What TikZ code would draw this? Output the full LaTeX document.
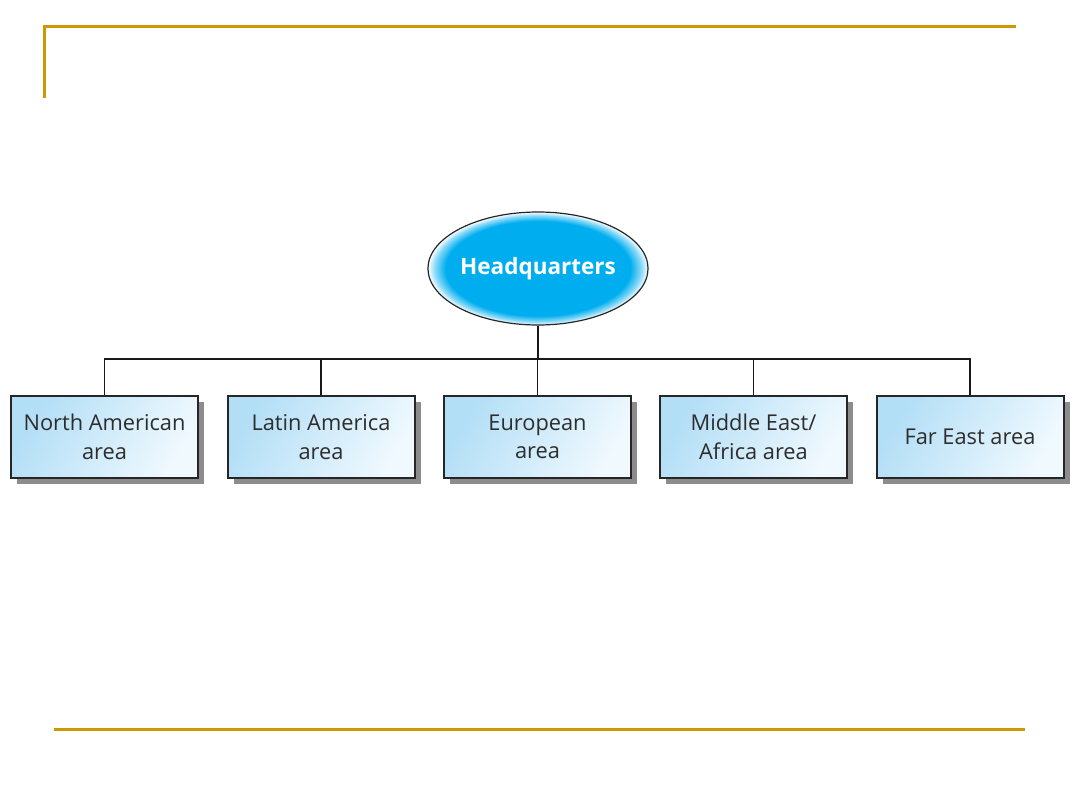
\documentclass[tikz,border=0pt]{standalone}
\usepackage{fontspec}
\setmainfont{Open Sans}
\usetikzlibrary{shapes.geometric,shadows}
\definecolor{gold}{RGB}{204,153,0}
\definecolor{hqcyan}{RGB}{0,174,239}
\definecolor{boxblue}{RGB}{178,222,246}
\definecolor{boxpale}{RGB}{240,249,254}
\definecolor{txt}{RGB}{45,45,45}
\definecolor{shadowgray}{RGB}{140,140,140}
\pgfdeclareradialshading{hqshade}{\pgfpoint{0bp}{0bp}}{color(0bp)=(hqcyan); color(21bp)=(hqcyan); color(23.5bp)=(hqcyan!45!white); color(25bp)=(white); color(50bp)=(white)}
\tikzset{
  rule/.style={gold, line width=3pt},
  hq/.style={ellipse, draw=black!85, line width=1.2pt, shading=hqshade,
    minimum width=220pt, minimum height=113pt, inner sep=0pt,
    font=\fontsize{22.5}{26}\selectfont\bfseries, text=white},
  area/.style={rectangle, draw=black!85, line width=2pt,
    shading=axis, left color=boxpale, right color=boxblue, shading angle=-120,
    minimum width=187pt, minimum height=82pt, inner sep=0pt, align=center,
    font=\fontsize{21.8}{28.5}\selectfont, text=txt,
    general shadow={shadow xshift=6pt, shadow yshift=-6pt, fill=shadowgray}},
  conn/.style={black!90, line width=1.1pt}
}
\begin{document}
\begin{tikzpicture}[x=1pt,y=-1pt]
\useasboundingbox (0,0) rectangle (1080,810);
% slide rules
\draw[rule] (44,98) -- (44,27) -- (1016,27);
\draw[rule] (54,729) -- (1025,729);
% nodes
\node[hq] (hq) at (538,268.5) {Headquarters};
\node[area] (na) at (104.5,437) {North American\\area};
\node[area] (la) at (321,437) {Latin America\\area};
\node[area] (eu) at (537.5,437) {European\\area};
\node[area] (me) at (753.5,437) {Middle East/\\Africa area};
\node[area] (fe) at (970,437) {Far East area};
\coordinate (bus) at (538,359);
% connectors
\draw[conn] (hq.south) -- (bus);
\draw[conn] (na.north) |- (bus) -| (fe.north);
\draw[conn] (la.north) -- (la.north |- bus);
\draw[conn] (eu.north) -- (eu.north |- bus);
\draw[conn] (me.north) -- (me.north |- bus);
\end{tikzpicture}
\end{document}
